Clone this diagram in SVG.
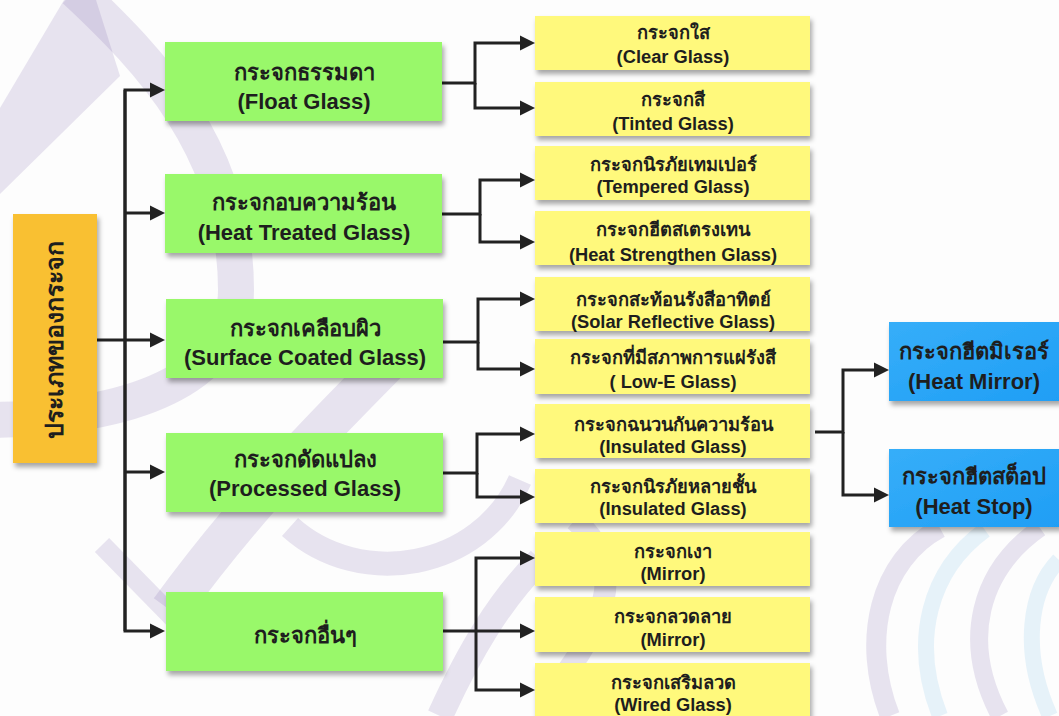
<svg xmlns="http://www.w3.org/2000/svg" width="1059" height="716" viewBox="0 0 1059 716">
<defs>
<style>
.bg{fill:#fdfdfd}
.wm{fill:none;stroke:#6b4fa0;stroke-opacity:0.15}
.wmb{fill:none;stroke:#4aa8e0;stroke-opacity:0.13}
.orange{fill:#f9c032}
.green{fill:#99f86a}
.yellow{fill:#fff97b}
.blue{fill:url(#bg)}
.t{font-family:"Liberation Sans","Noto Sans",Arial,sans-serif;font-weight:bold;fill:#1e1e1e;text-anchor:middle}
.tg{font-size:22px}
.ty{font-size:18.3px}
.tb{font-size:22px}
.to{font-size:25px}
.c{fill:none;stroke:#222;stroke-width:3;marker-end:url(#ah)}
</style>
<linearGradient id="bg" x1="0" y1="0" x2="1" y2="1">
<stop offset="0" stop-color="#36aef9"/>
<stop offset="1" stop-color="#1f9ef5"/>
</linearGradient>
<filter id="sh" x="-10%" y="-10%" width="125%" height="135%">
<feDropShadow dx="2" dy="4" stdDeviation="2.5" flood-color="#000" flood-opacity="0.35"/>
</filter>
<marker id="ah" markerWidth="16" markerHeight="16" refX="5" refY="8" orient="auto" markerUnits="userSpaceOnUse">
<path d="M0,0.5 L15,8 L0,15.5 z" fill="#222"/>
</marker>
</defs>
<rect class="bg" x="0" y="0" width="1059" height="716"/>
<g id="watermark">
<path class="wm" stroke-width="36" d="M75 -10 C 150 60, 236 150, 236 290 C 236 370, 150 418, -10 420"/>
<polygon points="0,108 64,0 96,0 120,76 0,194" fill="#6b4fa0" fill-opacity="0.15"/>
<path class="wm" stroke-width="40" d="M170 610 C 250 500, 330 420, 420 330"/>
<path class="wm" stroke-width="20" d="M102 545 L200 645"/>
<path class="wm" stroke-width="24" d="M290 527 C 360 590, 480 570, 520 480"/>
<path class="wm" stroke-width="26" d="M440 716 C 470 650, 500 600, 540 560"/>
<path class="wm" stroke-width="22" d="M575 520 C 620 560, 620 610, 545 700"/>
<path class="wm" stroke-width="20" d="M890 716 C 860 640, 880 560, 940 528"/>
<path class="wmb" stroke-width="16" d="M940 716 C 910 640, 930 570, 985 530"/>
<path class="wm" stroke-width="18" d="M1000 716 C 960 640, 980 570, 1040 528"/>
<path class="wmb" stroke-width="16" d="M1050 716 C 1020 650, 1030 590, 1059 560"/>
</g>
<g id="connectors">
<path class="c" d="M125 631 V90 H155"/>
<path class="c" d="M125 90 V631 H155"/>
<path class="c" d="M125 213 H155"/>
<path class="c" d="M97 340 H155"/>
<path class="c" d="M125 472 H155"/>
<path class="c" d="M441 83 H475 V43 H525"/>
<path class="c" d="M475 83 V108 H525"/>
<path class="c" d="M442 214 H480 V180 H525"/>
<path class="c" d="M480 214 V242 H525"/>
<path class="c" d="M442 342 H478 V299 H525"/>
<path class="c" d="M478 342 V369 H525"/>
<path class="c" d="M442 473 H477 V434 H525"/>
<path class="c" d="M477 473 V497 H525"/>
<path class="c" d="M442 631 H525"/>
<path class="c" d="M476 631 V558 H525"/>
<path class="c" d="M476 631 V690 H525"/>
<path class="c" d="M815 432 H843 V370 H879"/>
<path class="c" d="M843 432 V495 H879"/>
</g>
<g id="n-root"><rect class="orange" filter="url(#sh)" x="13" y="214" width="84" height="249"/><text class="t to" x="55" y="348" transform="rotate(-90 55 340)">ประเภทของกระจก</text></g>
<g id="n-float"><rect class="green" filter="url(#sh)" x="165" y="42" width="277" height="79"/><text class="t tg" x="304" y="80">กระจกธรรมดา</text><text class="t tg" x="304" y="109">(Float Glass)</text></g>
<g id="n-heat"><rect class="green" filter="url(#sh)" x="165" y="174" width="277" height="79"/><text class="t tg" x="304" y="210">กระจกอบความร้อน</text><text class="t tg" x="304" y="240">(Heat Treated Glass)</text></g>
<g id="n-coated"><rect class="green" filter="url(#sh)" x="166" y="299" width="277" height="79"/><text class="t tg" x="305" y="336">กระจกเคลือบผิว</text><text class="t tg" x="305" y="365">(Surface Coated Glass)</text></g>
<g id="n-processed"><rect class="green" filter="url(#sh)" x="166" y="433" width="277" height="79"/><text class="t tg" x="305" y="467">กระจกดัดแปลง</text><text class="t tg" x="305" y="496">(Processed Glass)</text></g>
<g id="n-other"><rect class="green" filter="url(#sh)" x="166" y="592" width="277" height="79"/><text class="t tg" x="305" y="643">กระจกอื่นๆ</text></g>
<g id="n-clear"><rect class="yellow" filter="url(#sh)" x="535" y="16" width="275" height="54"/><text class="t ty" x="673" y="39">กระจกใส</text><text class="t ty" x="673" y="63">(Clear Glass)</text></g>
<g id="n-tinted"><rect class="yellow" filter="url(#sh)" x="535" y="82" width="275" height="54"/><text class="t ty" x="673" y="106">กระจกสี</text><text class="t ty" x="673" y="130">(Tinted Glass)</text></g>
<g id="n-tempered"><rect class="yellow" filter="url(#sh)" x="535" y="146" width="275" height="54"/><text class="t ty" x="673" y="171">กระจกนิรภัยเทมเปอร์</text><text class="t ty" x="673" y="193">(Tempered Glass)</text></g>
<g id="n-hsg"><rect class="yellow" filter="url(#sh)" x="535" y="211" width="275" height="54"/><text class="t ty" x="673" y="236">กระจกฮีตสเตรงเทน</text><text class="t ty" x="673" y="261">(Heat Strengthen Glass)</text></g>
<g id="n-solar"><rect class="yellow" filter="url(#sh)" x="535" y="277" width="275" height="54"/><text class="t ty" x="673" y="306">กระจกสะท้อนรังสีอาทิตย์</text><text class="t ty" x="673" y="328">(Solar Reflective Glass)</text></g>
<g id="n-lowe"><rect class="yellow" filter="url(#sh)" x="535" y="339" width="275" height="55"/><text class="t ty" x="673" y="364">กระจกที่มีสภาพการแผ่รังสี</text><text class="t ty" x="673" y="388">( Low-E Glass)</text></g>
<g id="n-insulated"><rect class="yellow" filter="url(#sh)" x="535" y="404" width="275" height="54"/><text class="t ty" x="673" y="431">กระจกฉนวนกันความร้อน</text><text class="t ty" x="673" y="453">(Insulated Glass)</text></g>
<g id="n-laminated"><rect class="yellow" filter="url(#sh)" x="535" y="469" width="275" height="54"/><text class="t ty" x="673" y="493">กระจกนิรภัยหลายชั้น</text><text class="t ty" x="673" y="515">(Insulated Glass)</text></g>
<g id="n-mirror"><rect class="yellow" filter="url(#sh)" x="535" y="532" width="275" height="54"/><text class="t ty" x="673" y="558">กระจกเงา</text><text class="t ty" x="673" y="580">(Mirror)</text></g>
<g id="n-pattern"><rect class="yellow" filter="url(#sh)" x="535" y="597" width="275" height="55"/><text class="t ty" x="673" y="623">กระจกลวดลาย</text><text class="t ty" x="673" y="646">(Mirror)</text></g>
<g id="n-wired"><rect class="yellow" filter="url(#sh)" x="535" y="663" width="275" height="56"/><text class="t ty" x="673" y="689">กระจกเสริมลวด</text><text class="t ty" x="673" y="711">(Wired Glass)</text></g>
<g id="n-heatmirror"><rect class="blue" filter="url(#sh)" x="889" y="322" width="172" height="79"/><text class="t tb" x="974" y="359">กระจกฮีตมิเรอร์</text><text class="t tb" x="974" y="389">(Heat Mirror)</text></g>
<g id="n-heatstop"><rect class="blue" filter="url(#sh)" x="889" y="449" width="172" height="78"/><text class="t tb" x="974" y="484">กระจกฮีตสต็อป</text><text class="t tb" x="974" y="514">(Heat Stop)</text></g>
</svg>
